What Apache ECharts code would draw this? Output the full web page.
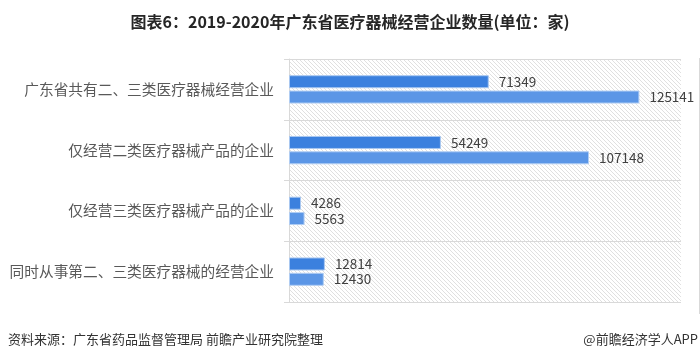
<!DOCTYPE html>
<html><head><meta charset="utf-8">
<script src="https://cdn.jsdelivr.net/npm/echarts@6/dist/echarts.min.js"></script>
<style>html,body{margin:0;padding:0;background:#fff}#c{width:700px;height:359px}</style>
</head><body><div id="c"></div>
<script>
var categories = ['广东省共有二、三类医疗器械经营企业','仅经营二类医疗器械产品的企业','仅经营三类医疗器械产品的企业','同时从事第二、三类医疗器械的经营企业'];
var seriesA = [71349, 54249, 4286, 12814];
var seriesB = [125141, 107148, 5563, 12430];
var titleText = '图表6：2019-2020年广东省医疗器械经营企业数量(单位：家)';
var sourceText = '资料来源：广东省药品监督管理局 前瞻产业研究院整理';
var brandText = '@前瞻经济学人APP';

var pc = document.createElement('canvas');
pc.width = 4; pc.height = 4;
var ctx = pc.getContext('2d');
ctx.fillStyle = '#fff'; ctx.fillRect(0,0,4,4);
ctx.fillStyle = '#e0e0e0';
for (var i=0;i<4;i++){ ctx.fillRect(i,i,1,1); }

var font = '"Noto Sans CJK SC", "Noto Sans", sans-serif';
var chart = echarts.init(document.getElementById('c'));
chart.setOption({
  animation: false,
  textStyle: {fontFamily: font},
  title: {text: titleText, left: 'center', top: 9,
    textStyle: {fontSize: 16, fontWeight: 'bold', color: '#262626', fontFamily: font}},
  grid: {left: 289, right: 19, top: 59, bottom: 57, show: true, borderWidth: 0,
    backgroundColor: {image: pc, repeat: 'repeat'}},
  xAxis: {type: 'value', min: 0, max: 140000, show: false, splitLine: {show: false}},
  yAxis: {type: 'category', data: categories, inverse: true,
    axisLine: {show: true, lineStyle: {color: '#d9d9d9'}},
    axisTick: {show: true, length: 5, lineStyle: {color: '#d9d9d9'}},
    splitLine: {show: true, lineStyle: {color: '#d9d9d9'}},
    axisLabel: {fontSize: 14.7, color: '#595959', margin: 15, fontFamily: font}},
  series: [
    {type: 'bar', data: seriesA, barWidth: 13, barGap: '18%',
      itemStyle: {color: '#3b80de', borderColor: '#a8c7f0', borderWidth: 1},
      label: {show: true, position: 'right', distance: 10, fontSize: 13.5, color: '#404040', fontFamily: font}},
    {type: 'bar', data: seriesB, barWidth: 13,
      itemStyle: {color: '#5b96e6', borderColor: '#b0cdf3', borderWidth: 1},
      label: {show: true, position: 'right', distance: 10, fontSize: 13.5, color: '#404040', fontFamily: font}}
  ],
  graphic: [
    {type: 'text', left: 8, top: 333, style: {text: sourceText, fontSize: 13, fill: '#333', fontFamily: font}},
    {type: 'text', right: 2, top: 333, style: {text: brandText, fontSize: 13, fill: '#333', fontFamily: font}},
    {type: 'line', shape: {x1: 699.5, y1: 58, x2: 699.5, y2: 314}, style: {stroke: '#d9d9d9', lineWidth: 1}}
  ]
});
</script></body></html>
